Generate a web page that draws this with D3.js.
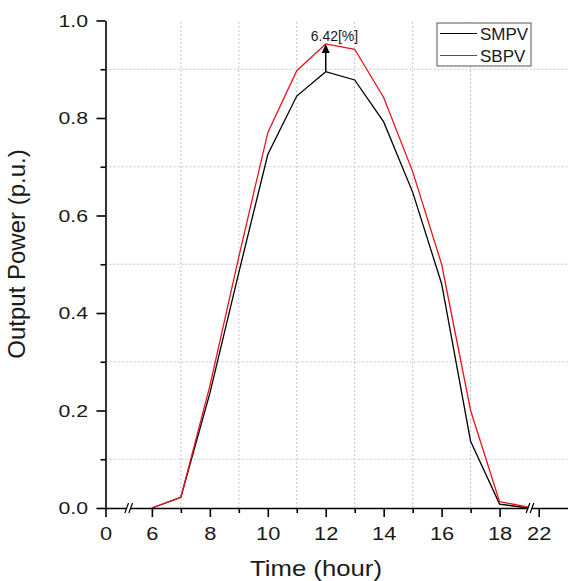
<!DOCTYPE html>
<html><head><meta charset="utf-8">
<script src="https://cdn.jsdelivr.net/npm/d3@7"></script>
<style>body{margin:0;background:#fff}svg{display:block}text{font-family:"Liberation Sans",Arial,sans-serif;fill:#1a1a1a}</style>
</head><body>
<svg id="c" width="568" height="581"></svg>
<script>
const hours=[6,7,8,9,10,11,12,13,14,15,16,17,18,19];
const smpv=[0,0.022,0.235,0.483,0.725,0.845,0.895,0.878,0.792,0.648,0.46,0.137,0.008,0.0];
const sbpv=[0,0.022,0.25,0.515,0.77,0.897,0.952,0.941,0.842,0.69,0.5,0.2,0.013,0.002];
const xMajor=[0,6,8,10,12,14,16,18,22];
const xMinor=[7,9,11,13,15,17];
const yMajor=[0,0.2,0.4,0.6,0.8,1.0];
const yMinor=[0.1,0.3,0.5,0.7,0.9];
const seriesNames=["SMPV","SBPV"];
const seriesColors=["#000000","#e8141c"];
const annotation="6.42[%]";
const peakHour=12;
const xTitle="Time (hour)";
const yTitle="Output Power (p.u.)";

const svg=d3.select("#c");
svg.append("rect").attr("width",568).attr("height",581).attr("fill","#fff");

// broken x axis: 0..0.8 | 5.2..19.05 | 21.7..23
const x=d3.scaleLinear().domain([0,0.8,5.2,19.05,21.7,23]).range([105.5,128.7,128.7,530,530,567.7]);
const y=d3.scaleLinear().domain([0,1]).range([508,20.5]);
const x0=105.5, xEnd=567.7;

// grid (at minor positions)
const grid=svg.append("g").attr("stroke","#c4c4c4").attr("stroke-width",1).attr("stroke-dasharray","2,2");
yMinor.forEach(v=>grid.append("line").attr("x1",x0).attr("x2",xEnd).attr("y1",y(v)).attr("y2",y(v)));
xMinor.forEach(v=>grid.append("line").attr("x1",x(v)).attr("x2",x(v)).attr("y1",y(0)).attr("y2",y(1)));

// data lines
const line=d3.line().x((d,i)=>x(hours[i])).y(d=>y(d));
[smpv,sbpv].forEach((s,k)=>{
  svg.append("path").datum(s).attr("d",line).attr("fill","none")
    .attr("stroke",seriesColors[k]).attr("stroke-width",1.3);
});

// axes
const xAx=svg.append("g").attr("transform",`translate(0,${y(0)})`)
  .call(d3.axisBottom(x).tickValues(xMajor).tickFormat(d3.format("d")).tickSize(9).tickSizeOuter(0));
xAx.append("g").call(d3.axisBottom(x).tickValues(xMinor).tickFormat("").tickSize(5).tickSizeOuter(0))
  .select(".domain").remove();
xAx.selectAll("text").attr("y",0).attr("dy",null).attr("font-size",19).attr("fill","#1a1a1a")
  .attr("transform","translate(0,31.5) scale(1.15,1)");

const yAx=svg.append("g").attr("transform",`translate(${x0},0)`)
  .call(d3.axisLeft(y).tickValues(yMajor).tickFormat(d3.format(".1f")).tickSize(9).tickSizeOuter(0));
yAx.append("g").call(d3.axisLeft(y).tickValues(yMinor).tickFormat("").tickSize(5).tickSizeOuter(0))
  .select(".domain").remove();
yAx.selectAll("text").attr("x",0).attr("dy","0.35em").attr("font-size",17).attr("fill","#1a1a1a")
  .attr("transform","translate(-17.5,0) scale(1.25,1)");
svg.selectAll(".domain, .tick line").attr("stroke","#000").attr("stroke-width",1.6);

// axis breaks
[[0.8,5.2],[19.05,21.7]].forEach(([a])=>{
  const bx=x(a), by=y(0);
  svg.append("rect").attr("x",bx-1.8).attr("y",by-2).attr("width",3.6).attr("height",4).attr("fill","#fff");
  [-2,2].forEach(o=>svg.append("line").attr("x1",bx+o-1.8).attr("y1",by+5).attr("x2",bx+o+1.8).attr("y2",by-5)
    .attr("stroke","#000").attr("stroke-width",1.2));
});

// annotation arrow
const pi=hours.indexOf(peakHour);
const ax=x(peakHour), yTop=y(sbpv[pi]), yBot=y(smpv[pi]);
svg.append("line").attr("x1",ax).attr("x2",ax).attr("y1",yBot).attr("y2",yTop+8).attr("stroke","#000").attr("stroke-width",1.5);
svg.append("path").attr("d",`M${ax},${yTop} L${ax-4},${yTop+9} L${ax+4},${yTop+9} Z`).attr("fill","#000");
svg.append("text").attr("x",ax-15).attr("y",yTop-3).attr("font-size",14).text(annotation);

// legend
const lg=svg.append("g");
lg.append("rect").attr("x",437).attr("y",23).attr("width",94).attr("height",43).attr("fill","#fff").attr("stroke","#555").attr("stroke-width",1);
seriesNames.forEach((n,i)=>{
  const ly=33.5+i*22;
  lg.append("line").attr("x1",440).attr("x2",477).attr("y1",ly).attr("y2",ly).attr("stroke",seriesColors[i]).attr("stroke-width",1.2);
  lg.append("text").attr("x",480).attr("y",ly+6.5).attr("font-size",17).text(n);
});

// titles
svg.append("text").attr("text-anchor","middle").attr("font-size",22)
  .attr("transform","translate(316,576) scale(1.17,1)").text(xTitle);
svg.append("text").attr("text-anchor","middle").attr("font-size",24)
  .attr("transform","translate(25,254) rotate(-90)").text(yTitle);
</script>
</body></html>
